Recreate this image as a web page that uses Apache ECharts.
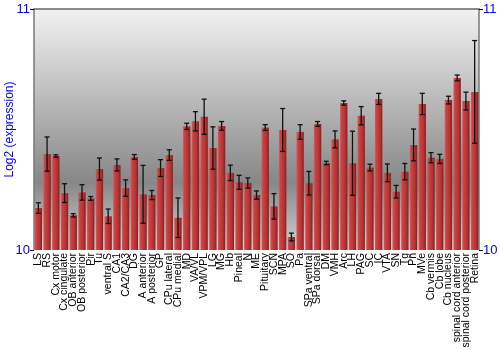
<!DOCTYPE html>
<html><head><meta charset="utf-8">
<script src="https://cdn.jsdelivr.net/npm/echarts@6/dist/echarts.min.js"></script>
<style>html,body{margin:0;padding:0;background:#fff}#c{width:500px;height:350px}</style>
</head><body><div id="c"></div>
<script>
const categories = ["LS","RS","Cx motor","Cx cingulate","OB anterior","OB posterior","Pir","Tu","ventral S","CA1","CA2/CA3","DG","A anterior","A posterior","GP","CPu lateral","CPu medial","MD","VA/VL","VPM/VPL","LG","MG","Hb","Pineal","N","ME","Pituitary","SCN","MPA","SO","Pa","SPa ventral","SPa dorsal","DM","VMH","Arc","LH","PAG","SC","IC","VTA","SN","Tg","Pn","MVe","Cb vermis","Cb lobe","Cb nucleus","spinal cord anterior","spinal cord posterior","Retina"];
const means = [10.174,10.398,10.390,10.236,10.144,10.239,10.214,10.336,10.140,10.353,10.257,10.386,10.231,10.228,10.340,10.394,10.134,10.513,10.534,10.553,10.423,10.515,10.320,10.281,10.278,10.228,10.508,10.181,10.498,10.054,10.490,10.277,10.523,10.361,10.459,10.610,10.360,10.557,10.342,10.627,10.320,10.242,10.325,10.436,10.606,10.383,10.378,10.622,10.714,10.618,10.656];
const errors = [0.022,0.071,0.005,0.039,0.007,0.032,0.008,0.046,0.030,0.025,0.034,0.010,0.120,0.019,0.035,0.022,0.082,0.013,0.040,0.073,0.088,0.018,0.032,0.029,0.021,0.017,0.012,0.053,0.089,0.016,0.030,0.049,0.010,0.007,0.035,0.009,0.133,0.038,0.014,0.023,0.037,0.026,0.034,0.066,0.044,0.021,0.019,0.016,0.012,0.037,0.213];
const yTicks = [10, 11];
const yName = "Log2 (expression)";

const chart = echarts.init(document.getElementById('c'), null, {renderer:'canvas'});
const blue = '#0000ee';
const errData = means.map((m,i)=>[i, m-errors[i], m+errors[i]]);
chart.setOption({
  animation:false,
  grid:{left:34,right:21,top:9,bottom:100,show:true,borderWidth:0,containLabel:false,outerBoundsMode:'none',
    backgroundColor:new echarts.graphic.LinearGradient(0,0,0,1,[
      {offset:0,color:'#f2f2f2'},{offset:0.72,color:'#878787'},{offset:1,color:'#d2d2d2'}])},
  xAxis:[{type:'category',data:categories,position:'bottom',
    axisLine:{show:false},axisTick:{show:false},
    axisLabel:{rotate:90,interval:0,fontFamily:'Liberation Sans',fontSize:10.5,color:'#000',margin:3}},
   {type:'category',data:categories,position:'top',
    axisLine:{show:true,lineStyle:{color:'#666',width:1.5}},axisTick:{show:false},axisLabel:{show:false}}],
  yAxis:[{type:'value',min:yTicks[0],max:yTicks[1],interval:1,position:'left',
    name:yName,nameLocation:'middle',nameGap:18,nameMoveOverlap:false,
    nameTextStyle:{color:blue,fontFamily:'Liberation Sans',fontSize:12},
    axisLine:{show:true,lineStyle:{color:'#777',width:1.5}},
    axisTick:{show:true,length:4,lineStyle:{color:'#000'}},
    splitLine:{show:false},
    axisLabel:{color:blue,fontFamily:'Liberation Sans',fontSize:13,margin:4}},
   {type:'value',min:yTicks[0],max:yTicks[1],interval:1,position:'right',
    axisLine:{show:true,lineStyle:{color:'#777',width:1.5}},
    axisTick:{show:true,length:4,lineStyle:{color:'#000'}},
    splitLine:{show:false},
    axisLabel:{color:blue,fontFamily:'Liberation Sans',fontSize:13,margin:4}}],
  series:[{type:'bar',data:means,barWidth:'84%',
    itemStyle:{color:new echarts.graphic.LinearGradient(0,0,1,0,[
      {offset:0,color:'#d45a5a'},{offset:0.2,color:'#c84444'},{offset:0.7,color:'#b63030'},{offset:1,color:'#8a1c1c'}])}},
   {type:'custom',data:errData,z:5,
    renderItem:function(params,api){
      const x=api.value(0);
      const lo=api.coord([x,api.value(1)]);
      const hi=api.coord([x,api.value(2)]);
      const w=2.5;
      const st={stroke:'#111',lineWidth:1.3};
      return {type:'group',children:[
        {type:'line',shape:{x1:lo[0],y1:lo[1],x2:hi[0],y2:hi[1]},style:st},
        {type:'line',shape:{x1:lo[0]-w,y1:lo[1],x2:lo[0]+w,y2:lo[1]},style:st},
        {type:'line',shape:{x1:hi[0]-w,y1:hi[1],x2:hi[0]+w,y2:hi[1]},style:st}]};
    }}]
});
</script></body></html>
